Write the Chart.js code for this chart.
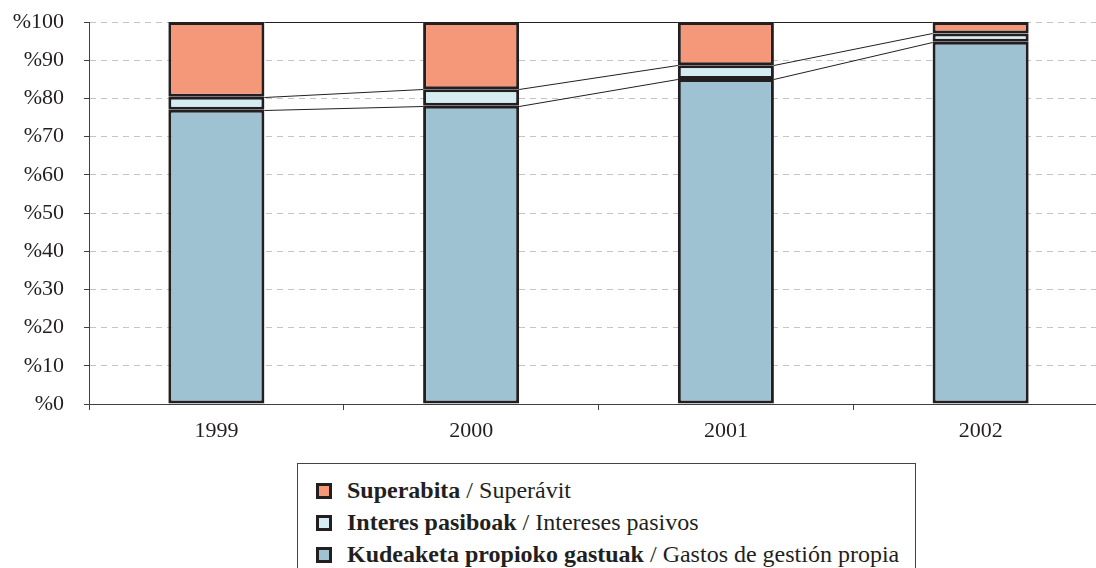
<!DOCTYPE html>
<html>
<head>
<meta charset="utf-8">
<script src="https://cdn.jsdelivr.net/npm/chart.js@4.4.0/dist/chart.umd.min.js"></script>
<style>
  body { margin: 0; background: #fff; overflow: hidden; width: 1096px; height: 568px; position: relative; }
  #wrap { position: absolute; left: 0; top: 0; width: 1110px; height: 450px; }
  #legend { position: absolute; left: 297px; top: 463px; width: 619px; height: 130px; border: 1px solid #444; box-sizing: border-box;
    font-family: "Liberation Serif", "Times New Roman", serif; font-size: 24px; color: #231f20; }
  .row { position: absolute; left: 18px; height: 32px; line-height: 32px; white-space: nowrap; }
  .sw { display: inline-block; width: 10px; height: 10px; border: 3px solid #231f20; vertical-align: -1px; margin-right: 15px; }
</style>
</head>
<body>
<div id="wrap"><canvas id="myChart"></canvas></div>
<div id="legend"></div>
<script>
/* datuak */
let years = ["1999", "2000", "2001", "2002"];
let kudeaketa = [77.0, 78.1, 85.1, 94.8];
let interes = [3.4, 4.3, 3.6, 2.2];
let superabita = [19.6, 17.6, 11.3, 3.0];
let yTicks = [0, 10, 20, 30, 40, 50, 60, 70, 80, 90, 100];

let names = ["Kudeaketa propioko gastuak", "Interes pasiboak", "Superabita"];
let namesEs = ["Gastos de gestión propia", "Intereses pasivos", "Superávit"];
let colors = ["#9ec2d2", "#d5edf2", "#f5987a"];

const ink = "#231f20";
const font = { family: "'Liberation Serif', 'Times New Roman', serif", size: 22 };

// lines between the stacked bar tops
const connectors = {
  id: "connectors",
  afterDatasetsDraw(chart) {
    const ctx = chart.ctx;
    ctx.save();
    ctx.strokeStyle = ink;
    ctx.lineWidth = 1;
    chart.data.datasets.forEach((ds, d) => {
      const bars = chart.getDatasetMeta(d).data;
      for (let i = 0; i < bars.length - 1; i++) {
        const a = bars[i], b = bars[i + 1];
        ctx.beginPath();
        ctx.moveTo(a.x + a.width / 2, Math.round(a.y) + 0.5);
        ctx.lineTo(b.x - b.width / 2, Math.round(b.y) + 0.5);
        ctx.stroke();
      }
    });
    ctx.restore();
  }
};

const data = {
  labels: years,
  datasets: [kudeaketa, interes, superabita].map((vals, i) => ({
    label: names[i],
    data: vals,
    backgroundColor: colors[i],
    borderColor: ink,
    borderWidth: 3,
    borderSkipped: false,
    categoryPercentage: 0.377,
    barPercentage: 1
  }))
};

const config = {
  type: "bar",
  data: data,
  plugins: [connectors],
  options: {
    responsive: true,
    maintainAspectRatio: false,
    animation: false,
    layout: { padding: { top: 22, right: 2, left: 0, bottom: 0 } },
    plugins: { legend: { display: false }, tooltip: { enabled: false } },
    scales: {
      x: {
        stacked: true,
        afterFit: s => { s.height = 46; },
        grid: { drawOnChartArea: false, tickLength: 6, tickColor: "#404040" },
        border: { color: "#404040", width: 1 },
        ticks: { color: ink, font: font, padding: 8 }
      },
      y: {
        stacked: true,
        min: 0,
        max: 100,
        afterFit: s => { s.width = 89; s.paddingTop = 0; s.paddingBottom = 0; },
        afterBuildTicks: s => { s.ticks = yTicks.map(v => ({ value: v })); },
        grid: { color: "#c4c4c4", tickLength: 5, tickColor: "#404040", lineWidth: 1 },
        border: { color: "#404040", width: 1, dash: [6, 5] },
        ticks: { color: ink, font: font, padding: 20, callback: v => "%" + v }
      }
    }
  }
};

new Chart(document.getElementById("myChart"), config);

// legend: top of stack first
let html = "";
[2, 1, 0].forEach((k, r) => {
  html += '<div class="row" style="top:' + (10 + r * 32) + 'px"><span class="sw" style="background:' + colors[k] + '"></span><b>' +
    names[k] + "</b> / " + namesEs[k] + "</div>";
});
document.getElementById("legend").innerHTML = html;
</script>
</body>
</html>
